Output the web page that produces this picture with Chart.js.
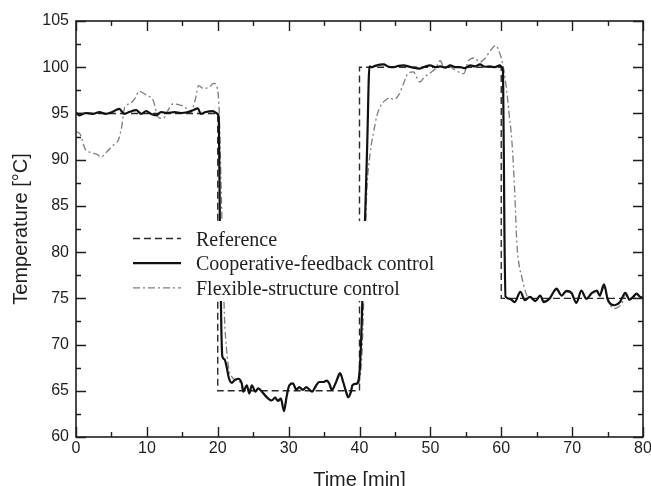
<!DOCTYPE html>
<html><head><meta charset="utf-8">
<script src="https://cdn.jsdelivr.net/npm/chart.js@4/dist/chart.umd.min.js"></script>
<style>html,body{margin:0;padding:0;background:#fff}</style>
</head><body>
<canvas id="c" width="651" height="486" style="display:block"></canvas>
<script>
// ---- data ----
const seriesNames = ['Reference', 'Cooperative-feedback control', 'Flexible-structure control'];

const refTime = [0, 20, 20, 40, 40, 60, 60, 80];
const refTemp = [95, 95, 65, 65, 100, 100, 75, 75];

const coopTime = [0,0.5,1.4,2.35,3.3,4.2,5.1,6.1,6.8,7.5,8.5,9.2,9.9,10.6,11.3,12.0,12.9,13.9,14.8,15.8,16.5,17.2,17.6,18.3,19.3,20.0,20.15,20.3,20.45,20.5,20.65,20.95,21.25,21.6,22.0,22.3,22.9,23.4,23.6,24.1,24.45,24.8,25.3,25.7,26.3,26.9,27.6,28.1,28.5,28.9,29.35,29.7,30.1,30.6,31.1,31.5,32.0,32.5,33.3,33.9,34.3,34.9,35.4,35.7,36.1,36.7,37.25,37.7,38.1,38.4,38.8,39.0,39.5,39.8,40.05,40.3,40.55,40.8,41.1,41.4,41.7,42.2,43.4,44.1,44.8,45.5,46.2,47.3,48.5,49.2,49.95,50.7,51.4,52.1,52.8,53.5,54.2,54.9,55.6,56.3,57.0,57.7,58.4,59.1,59.8,60.1,60.25,60.45,60.6,61.2,61.9,62.7,63.35,64.05,64.8,65.5,66.0,66.8,67.8,68.5,69.2,69.9,70.6,71.3,72.0,72.8,73.5,73.9,74.5,75.0,75.4,76.0,76.75,77.5,78.1,78.6,79.1,79.6,80];
const coopTemp = [95.1,94.8,95.05,94.95,95.15,94.95,95.15,95.5,94.95,95.15,95.35,94.95,95.25,94.95,94.8,95.15,95.05,95.15,95.05,95.15,95.35,95.55,94.95,95.15,95.25,94.95,94.5,83,74.6,72,68.7,68.4,67.6,66.3,65.85,66.1,66.3,65.75,64.9,65.6,64.7,65.6,64.9,65.25,64.85,64.3,63.95,64.25,63.9,64.15,62.8,64.3,65.6,65.8,65.1,65.4,65.1,65.4,64.9,65.6,65.95,65.95,66.1,65.85,65.1,65.95,66.9,65.95,64.9,64.3,64.9,65.6,65.75,65.95,67.5,72,79,84,92,100.1,100.0,100.15,100.3,100.05,100.0,100.15,100.2,100.0,99.85,100.05,100.2,100.0,100.1,99.95,100.2,100.0,100.0,99.9,100.2,100.1,100.3,100.05,100.1,100.0,100.2,100.0,99.5,82,75.2,74.95,74.6,75.7,74.8,75.15,74.7,75.3,74.6,74.95,76.05,75.3,75.8,75.6,74.5,75.85,74.95,75.6,75.85,75.3,76.5,74.95,74.4,74.25,74.6,75.6,74.85,75.15,75.5,75.15,75.1];

const flexTime = [0,0.56,1.27,1.98,2.92,3.6,4.1,4.8,5.5,5.96,6.43,6.9,7.6,8.3,8.9,9.97,10.9,11.6,12.3,13.0,13.7,14.7,15.4,16.1,16.8,17.3,17.96,18.7,19.45,19.95,20.2,20.45,20.7,20.95,21.25,21.6,22.0,22.4,22.9,23.4,23.7,24.1,24.5,24.9,25.3,25.8,26.3,26.9,27.6,28.1,28.5,28.9,29.35,29.7,30.1,30.6,31.1,31.5,32.0,32.5,33.3,33.9,34.3,34.9,35.4,35.7,36.1,36.7,37.25,37.7,38.1,38.4,38.8,39.0,39.5,39.8,40.1,40.4,40.7,41.0,41.5,42.0,42.4,42.9,43.6,44.3,44.8,45.5,46.2,46.9,47.6,48.5,49.2,50.2,50.7,51.4,51.9,52.5,53.2,54.2,54.7,55.4,56.2,57.0,57.7,58.3,58.9,59.2,59.8,60.3,60.75,61.1,61.5,61.9,62.2,62.5,62.9,63.35,63.8,64.3,64.8,65.5,66.0,66.8,67.8,68.5,69.2,69.9,70.6,71.3,72.0,72.8,73.5,73.9,74.5,75.0,75.4,76.0,76.5,77.0,77.5,78.1,78.6,79.1,79.6,80];
const flexTemp = [93.0,92.8,91.2,90.8,90.6,90.3,90.65,91.2,91.75,92.1,93.5,95.75,96.05,96.6,97.4,96.95,96.4,94.6,94.45,95.35,96.05,95.9,95.7,95.0,96.4,98.0,97.7,97.8,98.25,97.7,95.3,88,80,73,69.4,67.2,66.5,66.2,66.1,65.6,65.0,65.5,64.8,65.5,65.0,65.2,64.9,64.4,64.0,64.3,64.0,64.2,63.0,64.4,65.5,65.7,65.2,65.3,65.2,65.3,65.0,65.5,65.9,65.9,66.0,65.8,65.2,65.9,66.7,65.9,65.0,64.4,65.0,65.5,65.7,65.8,66.5,70,78,86,90.7,93.0,94.6,95.7,96.4,96.7,96.5,96.95,98.2,99.4,99.5,98.4,98.95,99.5,99.85,100.7,100.0,100.2,99.85,99.4,99.3,100.75,101.0,100.55,100.95,101.6,102.2,102.35,101.5,100.0,97.6,95.0,92.0,86.5,81.0,78.7,77.3,75.9,75.1,75.1,74.75,75.25,74.7,74.95,75.9,75.3,75.7,75.5,74.6,75.7,75.0,75.5,75.7,75.2,76.2,74.8,74.2,73.9,74.05,74.4,75.4,74.9,75.1,75.4,75.1,75.0];

const xTickValues = [0, 10, 20, 30, 40, 50, 60, 70, 80];
const yTickValues = [60, 65, 70, 75, 80, 85, 90, 95, 100, 105];
const xMinorStep = 5;
const yMinorStep = 2.5;
const xTitle = 'Time [min]';
const yTitle = 'Temperature [°C]';

// ---- chart ----
const pts = (t, v) => t.map((x, i) => ({x: x, y: v[i]}));
const INK = '#1e1e1e';

const framePlugin = {
  id: 'frameTicks',
  afterDatasetsDraw(chart) {
    const {ctx, chartArea: a, scales: {x, y}} = chart;
    ctx.save();
    ctx.strokeStyle = INK;
    ctx.lineWidth = 1.6;
    ctx.setLineDash([]);
    ctx.strokeRect(a.left, a.top, a.right - a.left, a.bottom - a.top);
    ctx.lineWidth = 1.4;
    ctx.beginPath();
    const xMin = xTickValues[0], xMax = xTickValues[xTickValues.length - 1];
    const xMajor = xTickValues[1] - xTickValues[0];
    for (let v = xMin; v <= xMax + 1e-9; v += xMinorStep) {
      const px = Math.round(x.getPixelForValue(v)) + 0.5;
      const len = (Math.abs(v / xMajor - Math.round(v / xMajor)) < 1e-6) ? 10 : 5;
      ctx.moveTo(px, a.bottom); ctx.lineTo(px, a.bottom - len);
      ctx.moveTo(px, a.top); ctx.lineTo(px, a.top + len);
    }
    const yMin = yTickValues[0], yMax = yTickValues[yTickValues.length - 1];
    const yMajor = yTickValues[1] - yTickValues[0];
    for (let v = yMin; v <= yMax + 1e-9; v += yMinorStep) {
      const py = Math.round(y.getPixelForValue(v)) + 0.5;
      const len = (Math.abs(v / yMajor - Math.round(v / yMajor)) < 1e-6) ? 10 : 5;
      ctx.moveTo(a.left, py); ctx.lineTo(a.left + len, py);
      ctx.moveTo(a.right, py); ctx.lineTo(a.right - len, py);
    }
    ctx.stroke();
    ctx.restore();
  }
};

const legendPlugin = {
  id: 'innerLegend',
  afterDatasetsDraw(chart) {
    const {ctx} = chart;
    const o = chart.options.plugins.innerLegend;
    ctx.save();
    ctx.fillStyle = '#ffffff';
    ctx.fillRect(o.boxX, o.boxY, o.boxW, o.boxH);
    chart.data.datasets.forEach((ds, i) => {
      const yy = o.top + i * o.rowGap;
      ctx.strokeStyle = ds.borderColor;
      ctx.lineWidth = ds.borderWidth;
      ctx.setLineDash(ds.borderDash || []);
      ctx.beginPath();
      ctx.moveTo(o.lineX1, yy); ctx.lineTo(o.lineX2, yy);
      ctx.stroke();
      ctx.setLineDash([]);
      ctx.fillStyle = INK;
      ctx.font = '20px "Liberation Serif", "Times New Roman", serif';
      ctx.textBaseline = 'alphabetic';
      ctx.textAlign = 'left';
      ctx.fillText(ds.label, o.textX, yy + 7);
    });
    ctx.restore();
  }
};

new Chart(document.getElementById('c'), {
  type: 'line',
  data: {
    datasets: [
      {label: seriesNames[0], data: pts(refTime, refTemp), borderColor: '#2a2a2a', borderWidth: 1.4, borderDash: [7, 4], tension: 0, order: 1},
      {label: seriesNames[1], data: pts(coopTime, coopTemp), borderColor: '#111111', borderWidth: 2.2, cubicInterpolationMode: 'monotone', order: 0},
      {label: seriesNames[2], data: pts(flexTime, flexTemp), borderColor: '#7c7c7c', borderWidth: 1.3, borderDash: [7, 3, 2, 3], cubicInterpolationMode: 'monotone', order: 2}
    ]
  },
  options: {
    responsive: false,
    animation: false,
    devicePixelRatio: 1,
    elements: {point: {radius: 0}},
    layout: {padding: {left: 0, right: 8, top: 21, bottom: 0}},
    plugins: {
      legend: {display: false},
      tooltip: {enabled: false},
      innerLegend: {top: 238.5, rowGap: 24.7, lineX1: 133, lineX2: 181, textX: 196, boxX: 124, boxY: 221, boxW: 318, boxH: 80}
    },
    scales: {
      x: {
        type: 'linear', min: xTickValues[0], max: xTickValues[xTickValues.length - 1],
        afterBuildTicks: s => { s.ticks = xTickValues.map(v => ({value: v})); },
        afterFit: s => { s.height = 49; s.paddingLeft = 0; s.paddingRight = 0; },
        grid: {display: false, drawTicks: false},
        border: {display: false},
        ticks: {padding: 2, color: INK, font: {family: '"Liberation Sans", Arial, sans-serif', size: 16}, maxRotation: 0, autoSkip: false},
        title: {display: true, text: xTitle, color: INK, font: {family: '"Liberation Sans", Arial, sans-serif', size: 20, lineHeight: 1}, padding: {top: 0, bottom: -4}}
      },
      y: {
        type: 'linear', min: yTickValues[0], max: yTickValues[yTickValues.length - 1],
        afterBuildTicks: s => { s.ticks = yTickValues.map(v => ({value: v})); },
        afterFit: s => { s.width = 76; s.paddingTop = 0; s.paddingBottom = 0; },
        grid: {display: false, drawTicks: false},
        border: {display: false},
        ticks: {padding: 7, color: INK, font: {family: '"Liberation Sans", Arial, sans-serif', size: 16}, autoSkip: false},
        title: {display: true, text: yTitle, color: INK, font: {family: '"Liberation Sans", Arial, sans-serif', size: 20, lineHeight: 1}, padding: {top: 11, bottom: 0}}
      }
    }
  },
  plugins: [framePlugin, legendPlugin]
});
</script>
</body></html>
